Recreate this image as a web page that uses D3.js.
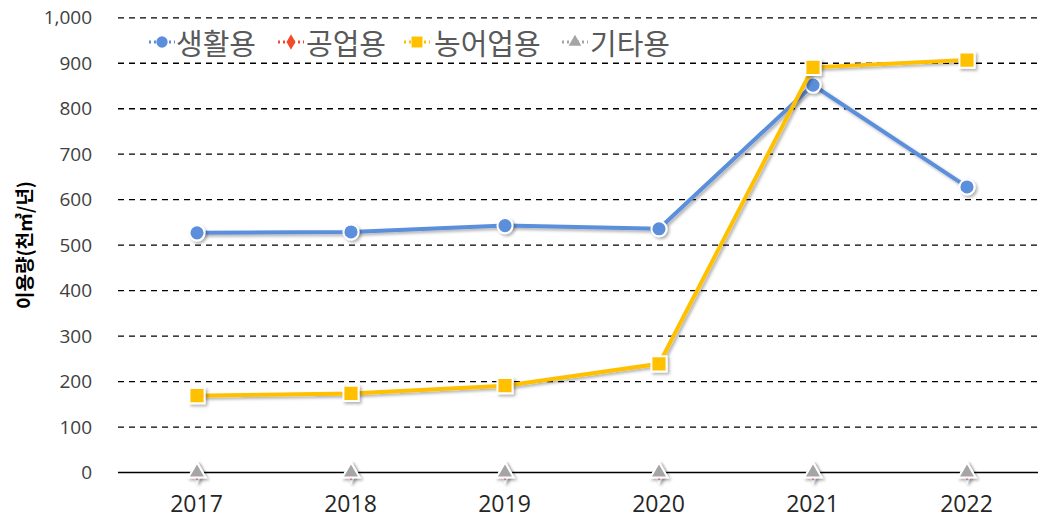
<!DOCTYPE html>
<html><head><meta charset="utf-8">
<script src="https://cdn.jsdelivr.net/npm/d3@7"></script>
<style>body{margin:0;background:#fff;}svg{display:block;font-family:"Noto Sans CJK KR","Noto Sans",sans-serif;}</style>
</head><body><svg id="c" width="1038" height="519"></svg>
<script>
const years = ["2017","2018","2019","2020","2021","2022"];
const domestic = [527, 529, 543, 536, 852, 628];
const industrial = [0, 0, 0, 0, 0, 0];
const agricultural = [169, 174, 191, 239, 891, 907];
const other = [0, 0, 0, 0, 0, 0];
const seriesNames = ["생활용", "공업용", "농어업용", "기타용"];
const yTicks = [0,100,200,300,400,500,600,700,800,900,1000];
const yTitle = "이용량(천㎥/년)";

const svg = d3.select("#c");
const x = d3.scalePoint().domain(years).range([197, 967]);
const y = d3.scaleLinear().domain([0, 1000]).range([472.5, 17.8]);

const defs = svg.append("defs");
const f = defs.append("filter").attr("id","sh").attr("x","-50%").attr("y","-50%").attr("width","200%").attr("height","200%");
f.append("feDropShadow").attr("dx",2).attr("dy",2).attr("stdDeviation",1.5).attr("flood-color","#000").attr("flood-opacity",0.3);

// grid
svg.append("g").selectAll("line").data(yTicks.filter(d=>d>0)).join("line")
  .attr("x1",118).attr("x2",1038).attr("y1",d=>y(d)).attr("y2",d=>y(d))
  .attr("stroke","#000").attr("stroke-width",1.3).attr("stroke-dasharray","6,5");
svg.append("line").attr("x1",118).attr("x2",1038).attr("y1",y(0)).attr("y2",y(0)).attr("stroke","#000").attr("stroke-width",1.5);

// y axis labels
const yAxis = d3.axisLeft(y).tickValues(yTicks).tickFormat(d3.format(",")).tickSize(0).tickPadding(0);
const yg = svg.append("g").attr("transform","translate(92,0)").call(yAxis);
yg.select(".domain").remove();
yg.selectAll("text").attr("font-size",19).attr("fill","#404040").attr("font-family","'Open Sans','Noto Sans',sans-serif");

// x axis labels
const xAxis = d3.axisBottom(x).tickSize(0).tickPadding(0);
const xg = svg.append("g").attr("transform","translate(-1,512)").call(xAxis);
xg.select(".domain").remove();
xg.selectAll("text").attr("font-size",23).attr("fill","#262626").attr("dy","0").attr("y",0).attr("font-family","'Open Sans','Noto Sans',sans-serif");

// y title
svg.append("text").attr("transform","translate(23,245) rotate(-90)").attr("text-anchor","middle")
  .attr("dominant-baseline","central").attr("font-size",19).attr("font-weight","bold").attr("fill","#000").text(yTitle);

const line = d3.line().x((d,i)=>x(years[i])).y(d=>y(d));
const series = [
  {name:seriesNames[0], vals:domestic, color:"#5B8FDB", shape:"circle"},
  {name:seriesNames[1], vals:industrial, color:"#F04B2A", shape:"diamond"},
  {name:seriesNames[2], vals:agricultural, color:"#FFC000", shape:"square"},
  {name:seriesNames[3], vals:other, color:"#A5A5A5", shape:"triangle"}
];
const symFor = {circle:d3.symbolCircle, diamond:d3.symbolDiamond, square:d3.symbolSquare, triangle:d3.symbolTriangle};
const sizeFor = {circle:180, diamond:110, square:230, triangle:130};
const lw = {circle:4, diamond:3, square:4, triangle:2.5};

const order = [1,3,0,2];
order.forEach(k=>{
  const s = series[k];
  const g = svg.append("g");
  g.append("path").datum(s.vals).attr("d",line).attr("fill","none").attr("stroke",s.color)
    .attr("stroke-width",lw[s.shape]).attr("filter","url(#sh)");
  g.selectAll("path.m").data(s.vals).join("path").attr("class","m")
    .attr("transform",(d,i)=>`translate(${x(years[i])},${y(d)})`)
    .attr("d",d3.symbol().type(symFor[s.shape]).size(sizeFor[s.shape]))
    .attr("fill",s.color).attr("stroke","#fff").attr("stroke-width",2).attr("filter","url(#sh)");
});

// legend
const legMarker = [162, 291, 417, 575];
const legText = [176, 306, 434, 590];
const lg = svg.append("g");
series.forEach((s,i)=>{
  const g = lg.append("g").attr("transform",`translate(0,42)`);
  g.append("line").attr("x1",legMarker[i]-13).attr("x2",legMarker[i]+13).attr("stroke",s.color).attr("stroke-width",3).attr("stroke-dasharray","2,3");
  g.append("path").attr("transform",`translate(${legMarker[i]},0)`)
    .attr("d",d3.symbol().type(symFor[s.shape]).size(s.shape==="square"?120:s.shape==="circle"?100:70))
    .attr("fill",s.color);
  g.append("text").attr("x",legText[i]).attr("y",0).attr("dominant-baseline","central").attr("font-size",29)
    .attr("fill","#595959").text(s.name);
});
</script></body></html>
